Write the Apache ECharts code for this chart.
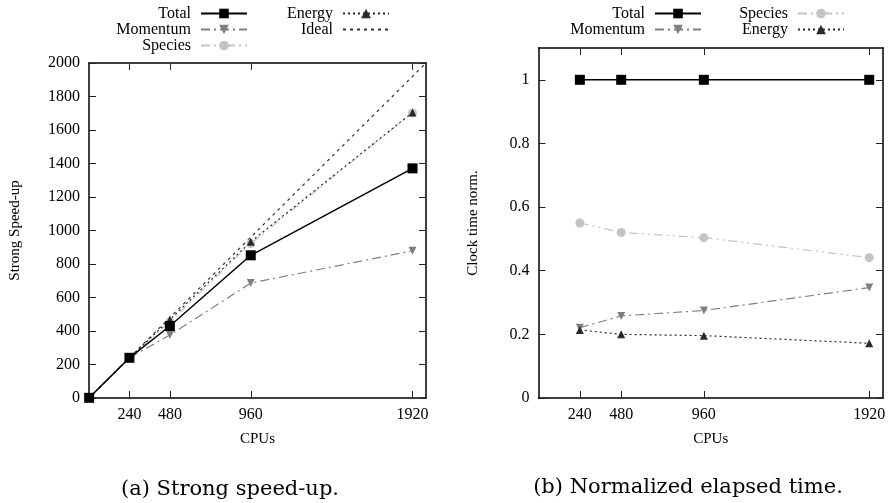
<!DOCTYPE html>
<html>
<head>
<meta charset="utf-8">
<style>html,body{margin:0;padding:0;background:#fff;}#main{width:891px;height:503px;}</style>
<script src="https://cdn.jsdelivr.net/npm/echarts@6/dist/echarts.min.js"></script>
</head>
<body>
<div id="main"></div>
<script>
// ---- Data ----
const cpuTicks = [240, 480, 960, 1920];
// (a) Strong speed-up
const speedCPUs = [1, 240, 480, 960, 1920];
const speedTotal = [1, 240, 430, 852, 1371];
const speedMomentum = [1, 240, 376, 686, 879];
const speedSpecies = [1, 240, 455, 922, 1702];
const speedEnergy = [1, 240, 468, 933, 1705];
const idealCPUs = [0, 2000];
const idealSpeed = [0, 2000];
// (b) Normalized elapsed time
const timeCPUs = [240, 480, 960, 1920];
const timeTotal = [1, 1, 1, 1];
const timeSpecies = [0.550, 0.520, 0.504, 0.441];
const timeMomentum = [0.221, 0.258, 0.275, 0.347];
const timeEnergy = [0.214, 0.200, 0.196, 0.172];

const leftTicks = [0, 200, 400, 600, 800, 1000, 1200, 1400, 1600, 1800, 2000];
const rightTicks = [0, 0.2, 0.4, 0.6, 0.8, 1];

const FONT = 'Liberation Serif';
const pairs = (xs, ys) => xs.map((x, i) => [x, ys[i]]);
const plain = v => String(Math.round(v * 1000) / 1000);

const styles = {
  Total:    {color: '#000000', symbol: 'rect', symbolSize: 10, width: 1.5, type: 'solid'},
  Momentum: {color: '#7f7f7f', symbol: 'triangle', symbolRotate: 180, symbolSize: 8, width: 1.2, type: [9, 4, 2, 4]},
  Species:  {color: '#c4c4c4', symbol: 'circle', symbolSize: 9, width: 1.2, type: [9, 4, 2, 4, 2, 4]},
  Energy:   {color: '#2a2a2a', symbol: 'triangle', symbolSize: 8, width: 1.2, type: [2, 3]},
  Ideal:    {color: '#333333', symbol: 'none', symbolSize: 0, width: 1.2, type: [3, 4]}
};

function mkSeries(name, data, axisIdx) {
  const s = styles[name];
  return {
    type: 'line', name: name, data: data,
    xAxisIndex: axisIdx, yAxisIndex: axisIdx,
    symbol: s.symbol, symbolSize: s.symbolSize, symbolRotate: s.symbolRotate || 0,
    showSymbol: s.symbol !== 'none',
    itemStyle: {color: s.color},
    lineStyle: {color: s.color, width: s.width, type: s.type},
    emphasis: {disabled: true},
    animation: false
  };
}

function mkXAxis(grid, pos, labels) {
  return {
    type: 'value', gridIndex: grid, position: pos, min: 0, max: 2000,
    splitLine: {show: false},
    axisLine: {show: true, onZero: false, lineStyle: {color: '#000', width: 1.5}},
    axisTick: {show: true, inside: true, length: 7, customValues: cpuTicks, lineStyle: {color: '#222', width: 1}},
    axisLabel: labels ? {show: true, customValues: cpuTicks, formatter: plain, margin: 9, color: '#000', fontFamily: FONT, fontSize: 16} : {show: false},
    name: labels ? 'CPUs' : '', nameLocation: 'middle', nameGap: 34,
    nameTextStyle: {color: '#000', fontFamily: FONT, fontSize: 15}
  };
}

function mkYAxis(grid, pos, labels, max, ticks, title, gap) {
  return {
    type: 'value', gridIndex: grid, position: pos, min: 0, max: max,
    splitLine: {show: false},
    axisLine: {show: true, onZero: false, lineStyle: {color: '#000', width: 1.5}},
    axisTick: {show: true, inside: true, length: 7, customValues: ticks, lineStyle: {color: '#222', width: 1}},
    axisLabel: labels ? {show: true, customValues: ticks, formatter: plain, margin: 9, color: '#000', fontFamily: FONT, fontSize: 16} : {show: false},
    name: labels ? title : '', nameLocation: 'middle', nameGap: gap, nameRotate: 90,
    nameTextStyle: {color: '#000', fontFamily: FONT, fontSize: 15}
  };
}

function legendItem(n) {
  if (n === 'Ideal') return {name: n, itemStyle: {color: 'rgba(0,0,0,0)', borderWidth: 0, opacity: 0}};
  return {name: n};
}

function mkLegend(names, right, top) {
  return {
    data: names.map(legendItem), orient: 'vertical', align: 'right', right: right, top: top,
    itemWidth: 46, itemHeight: 12, itemGap: 0, padding: 0,
    textStyle: {color: '#000', fontFamily: FONT, fontSize: 16, lineHeight: 15.5, padding: [0, 5, 0, 0]},
    selectedMode: false
  };
}

const chart = echarts.init(document.getElementById('main'), null, {renderer: 'canvas'});
chart.setOption({
  animation: false,
  backgroundColor: '#fff',
  grid: [
    {left: 89, top: 63, right: 465, bottom: 105},
    {left: 538.5, top: 48, right: 8, bottom: 105}
  ],
  xAxis: [mkXAxis(0, 'bottom', true), mkXAxis(0, 'top', false), mkXAxis(1, 'bottom', true), mkXAxis(1, 'top', false)],
  yAxis: [
    mkYAxis(0, 'left', true, 2000, leftTicks, 'Strong Speed-up', 66),
    mkYAxis(0, 'right', false, 2000, leftTicks, '', 0),
    mkYAxis(1, 'left', true, 1.1, rightTicks, 'Clock time norm.', 58),
    mkYAxis(1, 'right', false, 1.1, rightTicks, '', 0)
  ],
  legend: [
    mkLegend(['Total', 'Momentum', 'Species'], 643, 5.5),
    mkLegend(['Energy', 'Ideal'], 501, 5.5),
    mkLegend(['Total', 'Momentum'], 189, 5.5),
    mkLegend(['Species', 'Energy'], 46, 5.5)
  ],
  series: [
    mkSeries('Ideal', pairs(idealCPUs, idealSpeed), 0),
    mkSeries('Momentum', pairs(speedCPUs, speedMomentum), 0),
    mkSeries('Species', pairs(speedCPUs, speedSpecies), 0),
    mkSeries('Energy', pairs(speedCPUs, speedEnergy), 0),
    mkSeries('Total', pairs(speedCPUs, speedTotal), 0),
    mkSeries('Total', pairs(timeCPUs, timeTotal), 2),
    mkSeries('Species', pairs(timeCPUs, timeSpecies), 2),
    mkSeries('Momentum', pairs(timeCPUs, timeMomentum), 2),
    mkSeries('Energy', pairs(timeCPUs, timeEnergy), 2)
  ],
  graphic: [
    {type: 'text', x: 230, y: 490, style: {text: '(a) Strong speed-up.', fill: '#000', font: '21px "DejaVu Serif"', textAlign: 'center', textVerticalAlign: 'middle'}},
    {type: 'text', x: 688, y: 488, style: {text: '(b) Normalized elapsed time.', fill: '#000', font: '21px "DejaVu Serif"', textAlign: 'center', textVerticalAlign: 'middle'}}
  ]
});
</script>
</body>
</html>
